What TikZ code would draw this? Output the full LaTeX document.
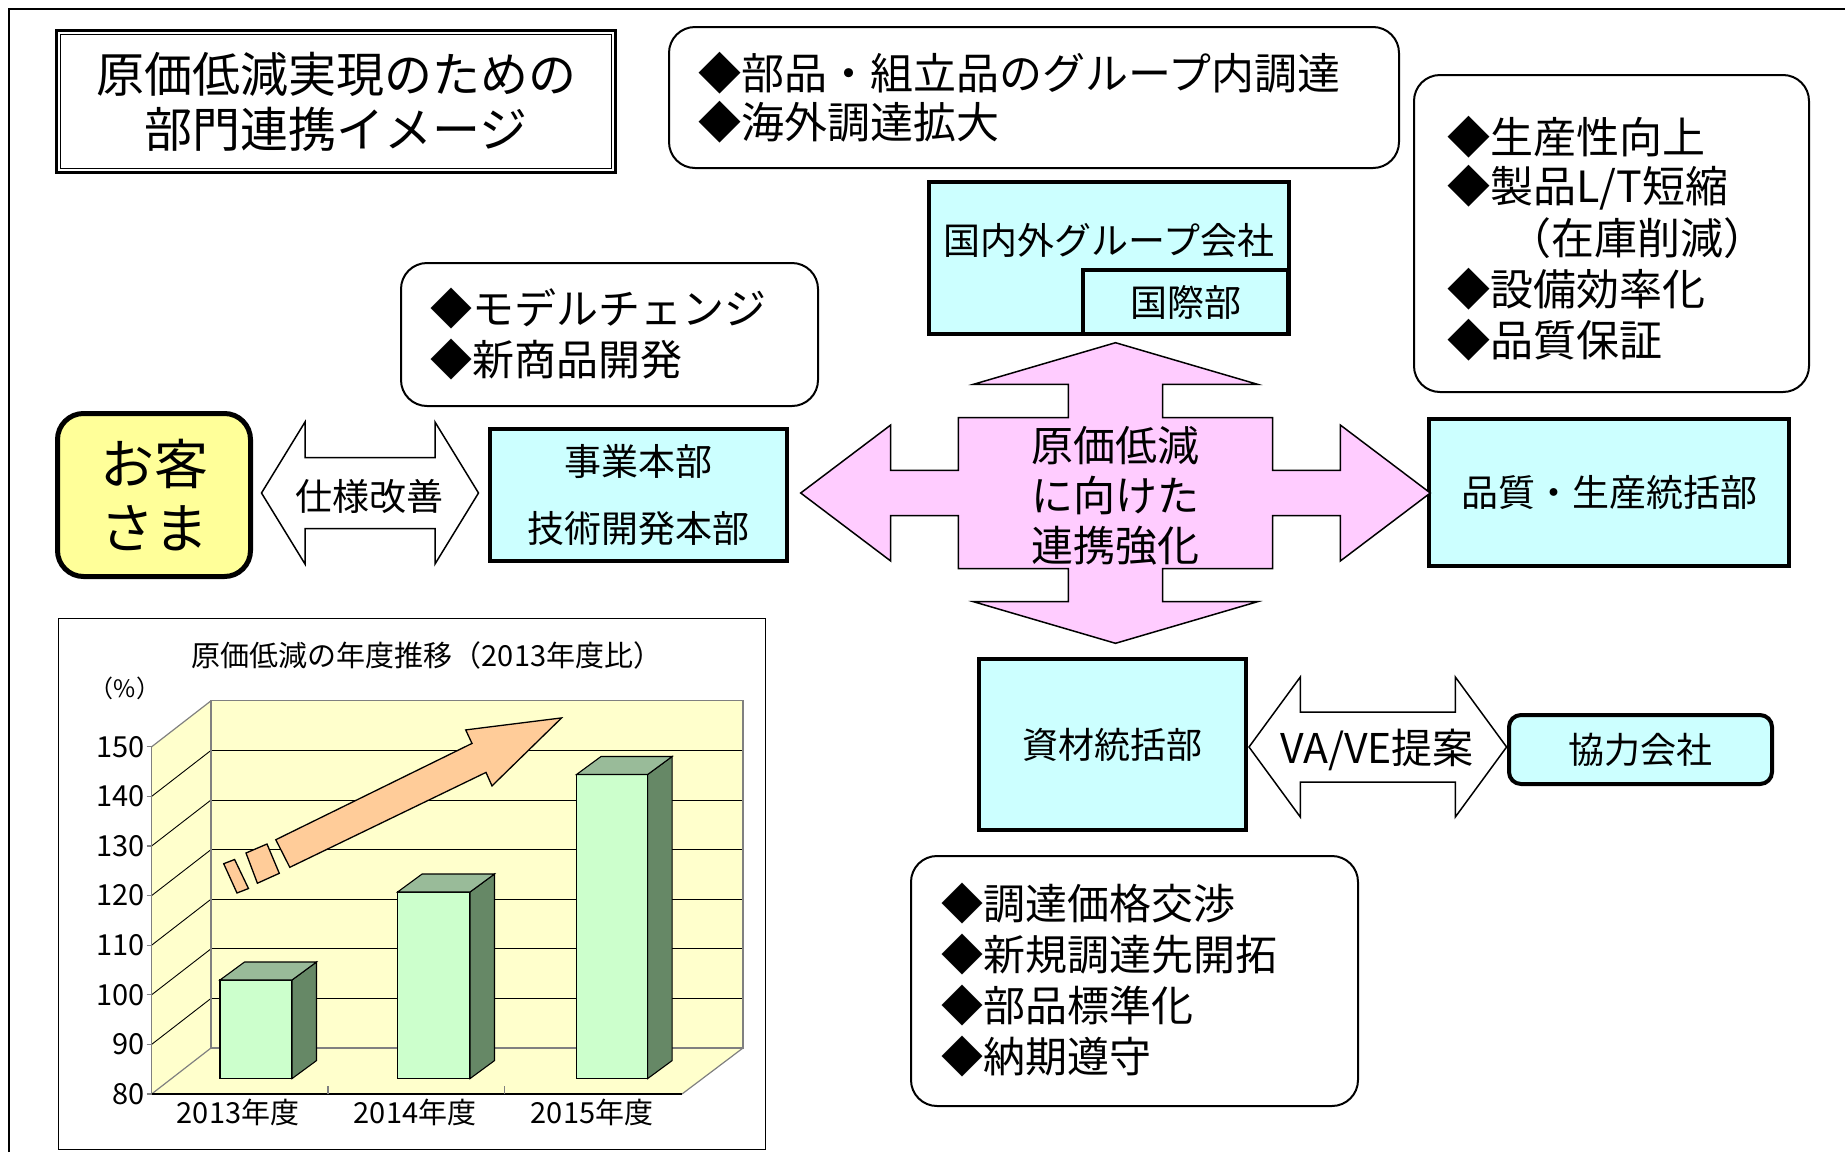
\documentclass[tikz,border=0pt]{standalone}
\usepackage{fontspec}
\setmainfont{Noto Sans CJK JP}
\usetikzlibrary{calc}
\definecolor{cyanfill}{HTML}{CCFFFF}
\definecolor{pinkfill}{HTML}{FFCCFF}
\definecolor{custfill}{HTML}{FFFF99}
\definecolor{wallfill}{HTML}{FFFFCC}
\definecolor{barfront}{HTML}{CCFFCC}
\definecolor{bartop}{HTML}{99BB99}
\definecolor{barside}{HTML}{668866}
\definecolor{orangefill}{HTML}{FFCC99}
\definecolor{edgegray}{HTML}{808080}
\newcommand{\fsz}[2]{\fontsize{#1}{#2}\selectfont}
\newcommand{\chartbar}[3]{%
  \filldraw[fill=barfront, line width=1.1pt] (#1,#3) rectangle (#2,1078.6);
  \filldraw[fill=barside, line width=1.1pt] (#2,#3) -- ++(24.5,-18) -- ++(0,{1078.6-#3}) -- ++(-24.5,18) -- cycle;
  \filldraw[fill=bartop, line width=1.1pt] (#1,#3) -- ++(24.5,-18) -- ++({#2-#1},0) -- ++(-24.5,18) -- cycle;
}
\begin{document}
\begin{tikzpicture}[x=1pt,y=-1pt,
  deptbox/.style={draw, line width=4pt, fill=cyanfill, inner sep=0pt, align=center},
  bubble/.style={draw, line width=2pt, rounded corners=26pt, fill=white, inner sep=0pt},
  linetext/.style={anchor=west, inner sep=0pt},
  plain/.style={inner sep=0pt, align=center},
  blockarrow/.style={draw, line width=1.5pt, line join=miter},
  chartline/.style={line width=0.9pt},
  grayline/.style={line width=1.2pt, draw=edgegray}]
\useasboundingbox (0,0) rectangle (1845,1152);

% outer frame
\draw[line width=2.5pt] (9,1152) -- (9,9) -- (1845,9);

% title
\node[draw, line width=2.5pt, minimum width=559pt, minimum height=142pt, plain, font=\fsz{48}{55}] (title) at (336,101.5) {原価低減実現のための\\部門連携イメージ};
\draw[line width=1.2pt] ($(title.north west)+(5.5,5.5)$) rectangle ($(title.south east)+(-5.5,-5.5)$);

% bubbles
\node[bubble, minimum width=730pt, minimum height=141pt] (bubA) at (1034,97.5) {};
\node[linetext, font=\fsz{43}{50}] (a1) at (698,73) {◆部品・組立品のグループ内調達};
\node[linetext, font=\fsz{43}{50}] (a2) at (698,122) {◆海外調達拡大};

\node[bubble, minimum width=395pt, minimum height=317pt] (bubB) at (1611.5,233.5) {};
\node[linetext, font=\fsz{43}{50}] (b1) at (1447,137) {◆生産性向上};
\node[linetext, font=\fsz{43}{50}] (b2) at (1447,188) {◆製品L/T短縮};
\node[linetext, font=\fsz{43}{50}] (b3) at (1508,238) {（在庫削減）};
\node[linetext, font=\fsz{43}{50}] (b4) at (1447,289) {◆設備効率化};
\node[linetext, font=\fsz{43}{50}] (b5) at (1447,340) {◆品質保証};

\node[bubble, minimum width=417pt, minimum height=143pt] (bubC) at (609.5,334.5) {};
\node[linetext, font=\fsz{42}{50}] (c1) at (430,309) {◆モデルチェンジ};
\node[linetext, font=\fsz{42}{50}] (c2) at (430,360) {◆新商品開発};

\node[bubble, minimum width=447pt, minimum height=250pt] (bubD) at (1134.5,981) {};
\node[linetext, font=\fsz{42}{50}] (d1) at (941,904) {◆調達価格交渉};
\node[linetext, font=\fsz{42}{50}] (d2) at (941,955) {◆新規調達先開拓};
\node[linetext, font=\fsz{42}{50}] (d3) at (941,1006) {◆部品標準化};
\node[linetext, font=\fsz{42}{50}] (d4) at (941,1057) {◆納期遵守};

% department boxes
\node[deptbox, minimum width=360pt, minimum height=152pt] (grp) at (1109,258) {};
\node[plain, font=\fsz{37}{44}] (grptext) at (1109,240) {国内外グループ会社};
\node[deptbox, minimum width=205pt, minimum height=64pt, font=\fsz{37}{44}] (intl) at (1185.5,302) {国際部};
\node[deptbox, minimum width=297pt, minimum height=132pt, font=\fsz{37}{67}] (jigyo) at (638.5,495) {事業本部\\技術開発本部};
\node[deptbox, minimum width=360pt, minimum height=147pt, font=\fsz{37}{44}] (qual) at (1609,492.5) {品質・生産統括部};
\node[deptbox, minimum width=267pt, minimum height=171pt, font=\fsz{36}{44}] (shizai) at (1112.5,744.5) {資材統括部};
\node[deptbox, rounded corners=12pt, minimum width=263pt, minimum height=69pt, font=\fsz{36}{44}] (kyo) at (1640.5,749.5) {協力会社};
\node[draw, line width=5pt, fill=custfill, rounded corners=26pt, minimum width=193pt, minimum height=163pt, plain, font=\fsz{54}{64}] (cust) at (154,495) {お客\\さま};

% block arrow: spec improvement
\begin{scope}[shift={(370,493)}]
\draw[blockarrow, fill=white] (-108.5,0) -- (-65,-71) -- (-65,-35.5) -- (65,-35.5) -- (65,-71) -- (108.5,0) -- (65,71) -- (65,35.5) -- (-65,35.5) -- (-65,71) -- cycle;
\end{scope}
\node[plain, font=\fsz{37}{44}] (spec) at (369,496) {仕様改善};

% block arrow: VA/VE
\begin{scope}[shift={(1377.8,747)}]
\draw[blockarrow, fill=white] (-128.8,0) -- (-77.5,-70) -- (-77.5,-35) -- (77.5,-35) -- (77.5,-70) -- (128.8,0) -- (77.5,70) -- (77.5,35) -- (-77.5,35) -- (-77.5,70) -- cycle;
\end{scope}
\node[plain, font=\fsz{41}{46}] (vave) at (1377,750) {VA/VE提案};

% central four-way arrow
\begin{scope}[shift={(1115.5,493)}]
\draw[blockarrow, fill=pinkfill]
 (0,-150.3) -- (142,-108.7) -- (47.2,-108.7) -- (47.2,-75.5) -- (157.2,-75.5) -- (157.2,-22.7)
 -- (224.8,-22.7) -- (224.8,-68) -- (314.8,0) -- (224.8,68) -- (224.8,22.7) -- (157.2,22.7)
 -- (157.2,75.5) -- (47.2,75.5) -- (47.2,108.7) -- (142,108.7) -- (0,150.3)
 -- (-142,108.7) -- (-47.2,108.7) -- (-47.2,75.5) -- (-157.2,75.5) -- (-157.2,22.7)
 -- (-224.8,22.7) -- (-224.8,68) -- (-314.8,0) -- (-224.8,-68) -- (-224.8,-22.7) -- (-157.2,-22.7)
 -- (-157.2,-75.5) -- (-47.2,-75.5) -- (-47.2,-108.7) -- (-142,-108.7) -- cycle;
\end{scope}
\node[plain, font=\fsz{42}{50}] (core) at (1115.5,496) {原価低減\\に向けた\\連携強化};

% chart
\node[draw, line width=1.5pt, minimum width=707pt, minimum height=531pt, inner sep=0pt] (chart) at (412,884) {};
\node[plain, font=\fsz{29}{34}] (ctitle) at (427,655) {原価低減の年度推移（2013年度比）};
\node[plain, font=\fsz{24}{30}] (pct) at (125,688) {（\%）};

\fill[wallfill] (151.6,746.8) -- (211,700.8) -- (743,700.8) -- (743,1048) -- (682,1094) -- (151.6,1094) -- cycle;
\foreach \k in {1,...,6} {
  \draw[chartline] (211,{700.8+\k*49.6}) -- (743,{700.8+\k*49.6});
  \draw[chartline] (151.6,{746.8+\k*49.6}) -- (211,{700.8+\k*49.6});
}
\draw[grayline] (211,700.8) rectangle (743,1048);
\draw[grayline] (151.6,746.8) -- (211,700.8);
\draw[grayline] (151.6,1094) -- (211,1048);
\draw[grayline] (682,1094) -- (743,1048);
\draw[grayline] (151.6,746.8) -- (151.6,1094);
\draw[line width=1.3pt] (151.6,1094) -- (682,1094);
\draw[grayline] (328,1094) -- (328,1086);
\draw[grayline] (504.5,1094) -- (504.5,1086);
\foreach \v [count=\k from 0] in {150,140,130,120,110,100,90,80} {
  \draw[grayline] (146.5,{746.8+\k*49.6}) -- (151.6,{746.8+\k*49.6});
  \node[anchor=east, inner sep=0pt, font=\fsz{29}{34}] (ylab\v) at (145,{746.8+\k*49.6}) {\v};
}
\node[plain, font=\fsz{29}{34}] (xlab1) at (238,1112) {2013年度};
\node[plain, font=\fsz{29}{34}] (xlab2) at (415,1112) {2014年度};
\node[plain, font=\fsz{29}{34}] (xlab3) at (592,1112) {2015年度};

\chartbar{220}{292}{980}
\chartbar{397.6}{470}{892}
\chartbar{576.5}{647.6}{774.5}

\filldraw[fill=orangefill, line width=1.3pt] (275.8,839.7) -- (472,743.4) -- (465.7,729.9) -- (561.6,717.9) -- (492,785.9) -- (486,772.4) -- (289.8,867.3) -- cycle;
\filldraw[fill=orangefill, line width=1.3pt] (246,853) -- (267,844) -- (279.3,873.3) -- (257.4,883.2) -- cycle;
\filldraw[fill=orangefill, line width=1.3pt] (223.7,863.7) -- (234.6,859.5) -- (248.5,888.5) -- (237,893) -- cycle;
\end{tikzpicture}
\end{document}
